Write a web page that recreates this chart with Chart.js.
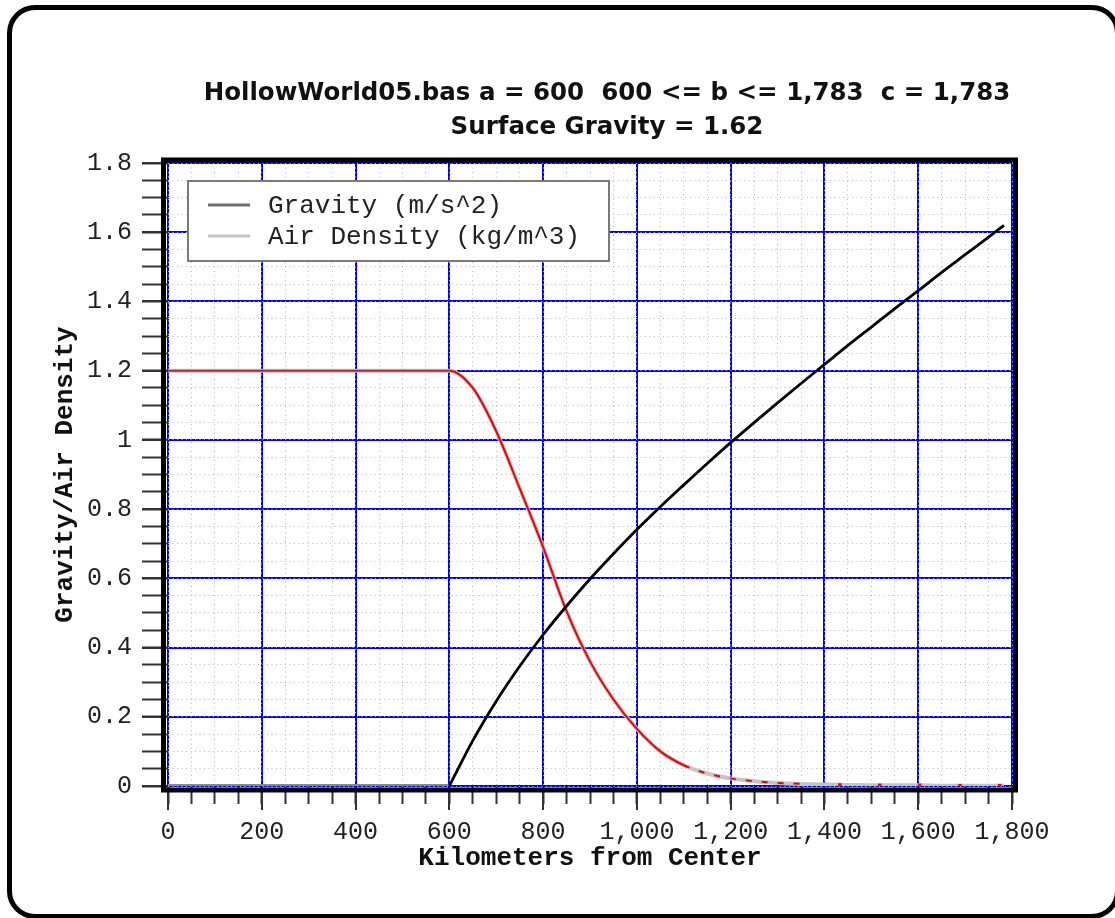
<!DOCTYPE html>
<html>
<head>
<meta charset="utf-8">
<script src="https://cdn.jsdelivr.net/npm/chart.js@4.4.1/dist/chart.umd.min.js"></script>
<style>
  html, body { margin: 0; padding: 0; background: #fff; overflow: hidden; }
  #wrap { position: relative; width: 1115px; height: 918px; }
  #frame { position: absolute; left: 7px; top: 5px; width: 1113px; height: 914px; box-sizing: border-box;
           border: 5px solid #000; border-radius: 28px; pointer-events: none; }
</style>
</head>
<body>
<div id="wrap">
  <canvas id="grafico" width="1115" height="918"></canvas>
  <div id="frame"></div>
</div>
<script>
const titulo = ['HollowWorld05.bas a = 600  600 <= b <= 1,783  c = 1,783', 'Surface Gravity = 1.62'];

// distancia do centro (km)
const km = [0, 50, 100, 150, 200, 250, 300, 350, 400, 450, 500, 550, 600,
  650, 700, 750, 800, 850, 900, 950, 1000, 1050, 1100, 1150, 1200, 1250, 1300,
  1350, 1400, 1450, 1500, 1550, 1600, 1650, 1700, 1750, 1783];

const gravidade = [0, 0, 0, 0, 0, 0, 0, 0, 0, 0, 0, 0, 0,
  0.131, 0.245, 0.346, 0.437, 0.520, 0.598, 0.671, 0.741, 0.807, 0.870, 0.932, 0.992,
  1.050, 1.107, 1.163, 1.218, 1.273, 1.326, 1.379, 1.431, 1.484, 1.535, 1.586, 1.620];

const densidade = [1.2, 1.2, 1.2, 1.2, 1.2, 1.2, 1.2, 1.2, 1.2, 1.2, 1.2, 1.2, 1.2,
  1.15, 1.025, 0.86, 0.69, 0.505, 0.36, 0.25, 0.165, 0.10, 0.06, 0.036, 0.022,
  0.014, 0.009, 0.006, 0.004, 0.003, 0.002, 0.002, 0.002, 0.001, 0.001, 0.001, 0.001];

// marcas vermelhas soltas no fim da curva de densidade
const caudaKm = [1433, 1518, 1603, 1689, 1774];
const caudaDens = [0.003, 0.002, 0.002, 0.001, 0.001];

const legendaTextos = ['Gravity (m/s^2)', 'Air Density (kg/m^3)'];
const legendaCores = ['#707070', '#c4c4c4'];

const xTicksMaiores = 200, xTicksMenores = 50;
const yTicksMaiores = 0.2, yTicksMenores = 0.05;

const pontos = (ys) => km.map((x, i) => ({ x: x, y: ys[i] }));

const mono = '"Liberation Mono", "Courier New", monospace';

const moldura = {
  id: 'moldura',
  beforeDraw(chart) {
    const { ctx, width, height } = chart;
    ctx.save();
    ctx.fillStyle = '#fff';
    ctx.fillRect(0, 0, width, height);
    ctx.fillStyle = '#111';
    ctx.font = 'bold 24.5px "DejaVu Sans", sans-serif';
    ctx.textAlign = 'center';
    ctx.textBaseline = 'middle';
    ctx.fillText(titulo[0], 607, 94);
    ctx.fillText(titulo[1], 607, 128);
    ctx.restore();
  },
  afterDatasetsDraw(chart) {
    const { ctx, chartArea: ca } = chart;
    ctx.save();
    // caixa da legenda
    const lx = ca.left + 20, ly = ca.top + 18;
    ctx.fillStyle = '#fff';
    ctx.fillRect(lx, ly, 421, 80);
    ctx.strokeStyle = '#7a7a7a';
    ctx.lineWidth = 2;
    ctx.strokeRect(lx, ly, 421, 80);
    ctx.font = '26px ' + mono;
    ctx.textBaseline = 'middle';
    legendaTextos.forEach((t, i) => {
      const yy = ly + 24 + i * 31;
      ctx.strokeStyle = legendaCores[i];
      ctx.lineWidth = 3;
      ctx.beginPath();
      ctx.moveTo(lx + 20, yy);
      ctx.lineTo(lx + 62, yy);
      ctx.stroke();
      ctx.fillStyle = '#222';
      ctx.fillText(t, lx + 80, yy + 1);
    });
    // borda grossa da area do grafico
    ctx.strokeStyle = '#000';
    ctx.lineWidth = 5;
    ctx.strokeRect(ca.left - 4.5, ca.top - 3, ca.width + 8, ca.height + 7);
    ctx.restore();
  }
};

const ctx = document.getElementById('grafico').getContext('2d');

const chart = new Chart(ctx, {
  type: 'line',
  data: {
    datasets: [
      {
        label: 'Gravity',
        data: pontos(gravidade).filter(p => p.x >= 600),
        borderColor: '#000',
        borderWidth: 2.8,
        pointRadius: 0,
        cubicInterpolationMode: 'monotone'
      },
      {
        label: 'Air Density',
        data: pontos(densidade).filter(p => p.x <= 1350),
        borderColor: '#f00000',
        borderWidth: 2,
        pointRadius: 0,
        cubicInterpolationMode: 'monotone',
        segment: {
          borderColor: c => c.p1.parsed.x <= 600 ? '#a0303a' : undefined,
          borderDash: c => c.p0.parsed.x >= 1100 ? [6, 10] : undefined
        }
      },
      {
        label: 'Air Density tail',
        data: caudaKm.map((x, i) => ({ x: x, y: caudaDens[i] })),
        showLine: false,
        pointStyle: 'rect',
        pointRadius: 2.5,
        pointBorderWidth: 0,
        pointBackgroundColor: '#ff0000'
      },
      {
        label: legendaTextos[1],
        data: pontos(densidade),
        borderColor: legendaCores[1],
        borderWidth: 4,
        pointRadius: 0,
        cubicInterpolationMode: 'monotone'
      },
      {
        label: legendaTextos[0],
        data: pontos(gravidade).filter(p => p.x <= 600),
        borderColor: '#888',
        borderWidth: 4,
        pointRadius: 0
      }
    ]
  },
  options: {
    animation: false,
    responsive: false,
    devicePixelRatio: 1,
    layout: { padding: { left: 0, top: 163, right: 103, bottom: 0 } },
    plugins: {
      legend: { display: false },
      tooltip: { enabled: false }
    },
    scales: {
      x: {
        type: 'linear',
        position: 'bottom',
        min: 0,
        max: 1800,
        afterFit: s => { s.height = 132; },
        border: { display: false },
        grid: { color: '#0000ff', lineWidth: 2, tickLength: 24, tickColor: '#333', tickWidth: 2 },
        ticks: {
          stepSize: xTicksMaiores,
          autoSkip: false,
          maxRotation: 0,
          padding: 7,
          color: '#222',
          font: { family: mono, size: 25 },
          callback: v => v.toLocaleString('en-US')
        },
        title: {
          display: true,
          text: 'Kilometers from Center',
          color: '#111',
          font: { family: mono, size: 26, weight: 'bold' },
          padding: { top: 0, bottom: 44 }
        }
      },
      xMenor: {
        type: 'linear',
        position: { y: 0 },
        min: 0,
        max: 1800,
        border: { display: false, dash: [1, 3.5] },
        grid: { color: '#b8b8b8', lineWidth: 1, tickLength: 18, tickColor: '#333', tickWidth: 2 },
        ticks: { stepSize: xTicksMenores, display: false }
      },
      y: {
        type: 'linear',
        position: 'left',
        min: 0,
        max: 1.8,
        afterFit: s => { s.width = 168; },
        border: { display: false },
        grid: { color: '#0000ff', lineWidth: 2, tickLength: 26, tickColor: '#333', tickWidth: 2 },
        ticks: {
          stepSize: yTicksMaiores,
          padding: 10,
          color: '#222',
          font: { family: mono, size: 25 },
          callback: v => String(Number(v.toFixed(2)))
        },
        title: {
          display: true,
          text: 'Gravity/Air Density',
          color: '#111',
          font: { family: mono, size: 26, weight: 'bold' },
          padding: { top: 50, bottom: 0 }
        }
      },
      yMenor: {
        type: 'linear',
        position: { x: 0 },
        min: 0,
        max: 1.8,
        border: { display: false, dash: [1, 3.5] },
        grid: { color: '#b8b8b8', lineWidth: 1, tickLength: 26, tickColor: '#333', tickWidth: 2 },
        ticks: { stepSize: yTicksMenores, display: false }
      }
    }
  },
  plugins: [moldura]
});
</script>
</body>
</html>
